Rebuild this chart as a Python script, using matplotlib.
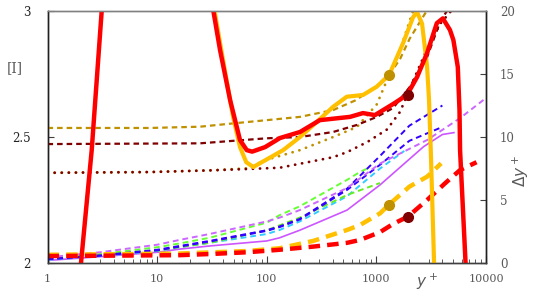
import matplotlib
matplotlib.use("Agg")
import matplotlib.pyplot as plt
from matplotlib.ticker import FixedLocator, LogLocator, NullFormatter

# ---------------- data: Xi (left axis) ----------------
red_a_x = [1.9, 2.02, 2.53, 3.12, 3.3]
red_a_y = [1.92, 2.0, 2.448, 3.0, 3.12]

red_b_x = [31.0, 32.6, 37.5, 46.3, 57, 65.7, 73.6, 96.6, 132, 201, 305, 575, 754, 970,
           1420, 1905, 2350, 2900, 3560, 4040, 4690, 5040, 5530, 5730, 5800, 6510, 6700]
red_b_y = [3.08, 3.0, 2.845, 2.647, 2.488, 2.448, 2.442, 2.46, 2.496, 2.52, 2.567, 2.58, 2.595, 2.587,
           2.631, 2.667, 2.738, 2.833, 2.952, 2.971, 2.925, 2.885, 2.778, 2.607, 2.448, 2.0, 1.9]

orange_x = [32.0, 33.4, 39, 49.3, 57, 65, 75.4, 141, 201, 286, 403, 537, 756, 1009, 1306, 1753,
            2163, 2350, 2610, 2900, 3020, 3135, 3360, 3420]
orange_y = [3.08, 3.0, 2.83, 2.58, 2.46, 2.40, 2.381, 2.448, 2.50, 2.56, 2.62, 2.66, 2.667, 2.70, 2.746,
            2.873, 2.976, 2.996, 2.95, 2.78, 2.65, 2.448, 2.0, 1.9]

gold_dash_x = [1, 8.6, 24.6, 49, 100, 201, 403, 640, 1000, 1306, 1645, 2010, 2870]
gold_dash_y = [2.536, 2.536, 2.541, 2.554, 2.567, 2.58, 2.607, 2.645, 2.70, 2.746, 2.81, 2.89, 3.0]

dred_dash_x = [1, 24.6, 100, 201, 403, 665, 1010, 1420, 2010, 2900, 3830, 4400]
dred_dash_y = [2.472, 2.475, 2.495, 2.50, 2.52, 2.548, 2.58, 2.615, 2.698, 2.817, 2.96, 3.0]

dred_dot_x = [1, 8.6, 32.3, 66, 131, 403, 540, 825, 1250, 1645, 2150, 2900, 3830, 5250]
dred_dot_y = [2.358, 2.361, 2.368, 2.373, 2.378, 2.42, 2.44, 2.48, 2.53, 2.60, 2.72, 2.85, 2.95, 3.02]

gold_dot_x = [1, 8.6, 32.3, 66, 100, 201, 403, 665, 1010, 1306, 1645, 2010, 2160]
gold_dot_y = [2.358, 2.361, 2.368, 2.376, 2.41, 2.448, 2.50, 2.54, 2.63, 2.746, 2.845, 2.96, 3.0]

mark_gold_xi = (1306, 2.746)
mark_dred_xi = (1940, 2.667)

# ---------------- data: Delta y+ (right axis) ----------------
red_dd_x = [1, 16, 32, 66, 131, 265, 540, 710, 1080, 1420, 1940, 2900, 4200, 5800, 8200]
red_dd_y = [0.55, 0.62, 0.72, 0.85, 1.05, 1.3, 1.6, 1.83, 2.45, 3.1, 3.68, 5.0, 6.3, 7.38, 8.0]

orange_dd_x = [1, 16, 66, 131, 265, 540, 710, 1080, 1306, 2000, 2900, 3900]
orange_dd_y = [0.65, 0.75, 0.95, 1.17, 1.75, 2.62, 3.02, 3.94, 4.64, 6.06, 6.85, 7.91]

purple_x = [1, 3, 10, 16, 30, 100, 131, 200, 540, 1080, 2900, 5800, 10000, 20000]
purple_y = [0.45, 0.85, 1.45, 1.83, 2.3, 3.3, 3.6, 4.2, 5.95, 7.9, 9.76, 11.5, 13.1, 14.3]

green_x = [1, 3, 10, 16, 30, 100, 131, 200, 540, 700, 870]
green_y = [0.38, 0.7, 1.25, 1.55, 2.0, 3.2, 3.8, 4.5, 6.6, 7.2, 7.6]

green2_x = [1, 10, 30, 100, 200, 540, 1080]
green2_y = [0.35, 1.0, 1.6, 2.6, 3.6, 5.4, 6.35]

blue1_x = [1, 3, 10, 16, 30, 100, 131, 200, 540, 1080, 2000, 4000]
blue1_y = [0.3, 0.6, 1.05, 1.35, 1.75, 2.6, 2.9, 3.5, 5.9, 8.5, 10.9, 12.5]

blue2_x = [1, 3, 10, 16, 30, 100, 131, 200, 540, 1080, 2000, 4000]
blue2_y = [0.3, 0.58, 1.0, 1.3, 1.7, 2.55, 2.85, 3.45, 5.8, 7.8, 9.7, 10.8]

cyan_x = [1, 3, 10, 16, 30, 100, 131, 200, 540, 1080, 1800]
cyan_y = [0.25, 0.55, 0.95, 1.25, 1.6, 2.3, 2.62, 3.3, 5.3, 7.5, 8.9]

violet_x = [1, 3, 10, 16, 30, 100, 131, 200, 540, 1080, 2700, 4000, 5100]
violet_y = [0.2, 0.5, 0.85, 1.1, 1.35, 1.75, 2.0, 2.6, 4.2, 6.2, 9.24, 10.2, 10.35]

mark_gold_dy = (1306, 4.64)
mark_dred_dy = (1940, 3.68)

xticks = [1, 10, 100, 1000, 10000]
xticklabels = ["1", "10", "100", "1000", "10000"]
yticks_left = [2, 2.5, 3]
yticklabels_left = ["2", "2.5", "3"]
yticks_right = [0, 5, 10, 15, 20]

# ---------------- figure ----------------
plt.rcParams['font.family'] = ['DejaVu Serif']
fig = plt.figure(figsize=(5.4, 2.95), dpi=100)
ax = fig.add_axes([0.088, 0.1085, 0.812, 0.854])
ax2 = ax.twinx()
ax.set_zorder(2)
ax2.set_zorder(1)
ax.patch.set_visible(False)

GOLD = "#BF9000"
DRED = "#7F0000"
ORANGE = "#FFC000"
RED = "#FF0000"

# right-axis (Delta y+) curves
thin = dict(lw=1.4)
ax2.plot(violet_x, violet_y, color="#CC55FF", lw=1.2, ls="-")
ax2.plot(cyan_x, cyan_y, color="#33CCFF", ls=(0, (3, 2)), **thin)
ax2.plot(green2_x, green2_y, color="#66EE22", ls=(0, (3, 2)), **thin)
ax2.plot(green_x, green_y, color="#66FF33", ls=(0, (3, 2)), **thin)
ax2.plot(blue2_x, blue2_y, color="#3300FF", ls=(0, (3, 2)), **thin)
ax2.plot(blue1_x, blue1_y, color="#3300FF", ls=(0, (3, 2)), **thin)
ax2.plot(purple_x, purple_y, color="#CC66FF", ls=(0, (3, 2)), **thin)
ax2.plot(orange_dd_x, orange_dd_y, color=ORANGE, lw=3.2, ls=(0, (2.6, 1.6)))
ax2.plot(red_dd_x, red_dd_y, color=RED, lw=3.2, ls=(0, (2.6, 1.6)))
ax2.plot(*mark_gold_dy, 'o', color=GOLD, ms=7, zorder=5)
ax2.plot(*mark_dred_dy, 'o', color=DRED, ms=7, zorder=5)

# left-axis (Xi) curves
dot = dict(lw=2.0, dash_capstyle='round')
ax.plot(gold_dot_x, gold_dot_y, color=GOLD, ls=(0, (0.05, 2.5)), **dot)
ax.plot(dred_dot_x, dred_dot_y, color=DRED, ls=(0, (0.05, 2.5)), **dot)
ax.plot(gold_dash_x, gold_dash_y, color=GOLD, lw=1.6, ls=(0, (2.5, 1.8)))
ax.plot(dred_dash_x, dred_dash_y, color=DRED, lw=1.6, ls=(0, (2.5, 1.8)))
ax.plot(orange_x, orange_y, color=ORANGE, lw=3.0)
ax.plot(red_a_x, red_a_y, color=RED, lw=3.2)
ax.plot(red_b_x, red_b_y, color=RED, lw=3.2)
ax.plot(*mark_gold_xi, 'o', color=GOLD, ms=7, zorder=5)
ax.plot(*mark_dred_xi, 'o', color=DRED, ms=7, zorder=5)

# axes setup
ax.set_xscale('log')
ax.set_xlim(1, 10000)
ax.set_ylim(2, 3)
ax2.set_ylim(0, 20)

GRAY = "#595959"
ax.xaxis.set_major_locator(FixedLocator(xticks))
ax.set_xticklabels(xticklabels)
ax.xaxis.set_minor_locator(LogLocator(base=10, subs=range(2, 10)))
ax.xaxis.set_minor_formatter(NullFormatter())
ax.set_yticks(yticks_left)
ax.set_yticklabels(yticklabels_left)
ax2.set_yticks(yticks_right)

ax.tick_params(axis='x', which='both', direction='in', colors="#404040", labelcolor=GRAY,
               labelsize=8, pad=8)
ax.tick_params(axis='x', which='major', length=5)
ax.tick_params(axis='x', which='minor', length=3)
ax.tick_params(axis='y', direction='in', length=4, colors="#404040", labelcolor="#222222",
               labelsize=8.5, pad=12)
ax2.tick_params(axis='y', direction='in', length=4, colors="#404040", labelcolor=GRAY,
                labelsize=8.5, pad=10)

for a in (ax, ax2):
    a.spines['top'].set_color("#808080")
    a.spines['bottom'].set_color("#404040")
    a.spines['left'].set_color("#202020")
    a.spines['right'].set_color("#202020")
    for s in a.spines.values():
        s.set_linewidth(1.0)

fig.text(0.028, 0.77, "[I]", fontsize=10, color=GRAY, ha='center', va='center')
fig.text(0.79, 0.045, "$y^+$", fontsize=11, color=GRAY, ha='center', va='center')
fig.text(0.965, 0.42, r"$\Delta y^+$", fontsize=11, color=GRAY, ha='center', va='center',
         rotation=90)

fig.savefig("out.png", dpi=100)
